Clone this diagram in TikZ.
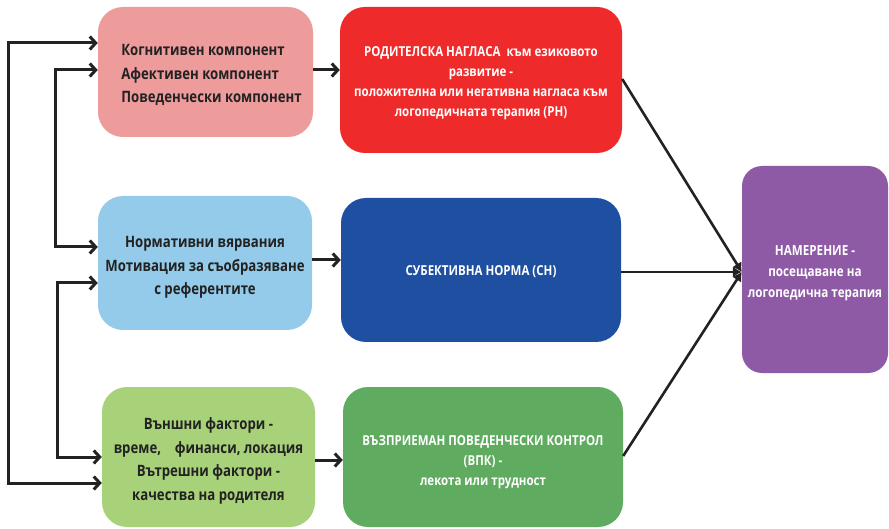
\documentclass[tikz,border=0pt]{standalone}
\usepackage{fontspec}
\setmainfont{Open Sans}[FakeStretch=0.84,BoldFont={* Bold}]
\usetikzlibrary{arrows.meta}
\definecolor{cpink}{HTML}{EE9B9B}
\definecolor{cred}{HTML}{EE2A2A}
\definecolor{clblue}{HTML}{94CBEA}
\definecolor{cdblue}{HTML}{1F4FA0}
\definecolor{clgreen}{HTML}{A8D27A}
\definecolor{cgreen}{HTML}{5FAB5F}
\definecolor{cpurple}{HTML}{8E5AA5}
\definecolor{ctext}{HTML}{222222}
\begin{document}
\begin{tikzpicture}[x=1pt,y=-1pt,
  boxstyle/.style={rounded corners=25pt,inner sep=0pt},
  label text/.style={inner sep=0pt,align=center},
  darktext/.style={label text,text=ctext,font=\bfseries\fontsize{15.7}{23.5}\selectfont},
  lighttext/.style={label text,text=white,font=\bfseries\fontsize{13.7}{20}\selectfont},
  conn/.style={draw=ctext,line width=3pt},
  arr/.style={conn,-{Straight Barb[length=6pt,width=13pt,line width=3pt]}},
  arrb/.style={conn,{Straight Barb[length=6pt,width=13pt,line width=3pt]}-{Straight Barb[length=6pt,width=13pt,line width=3pt]}},
  conv/.style={draw=ctext,line width=2.6pt,-{Latex[length=9pt,width=11pt]}}]
\useasboundingbox (0,0) rectangle (889,529);
% boxes
\node[boxstyle,fill=cpink,minimum width=215pt,minimum height=130pt] (pink) at (205.5,72) {};
\node[boxstyle,fill=cred,minimum width=282pt,minimum height=146pt] (red) at (481,80) {};
\node[boxstyle,fill=clblue,minimum width=214pt,minimum height=134pt] (lblue) at (205,263) {};
\node[boxstyle,fill=cdblue,minimum width=280pt,minimum height=144pt] (dblue) at (481,270) {};
\node[boxstyle,fill=clgreen,minimum width=213pt,minimum height=140pt] (lgreen) at (208.5,457) {};
\node[boxstyle,fill=cgreen,minimum width=280pt,minimum height=140pt] (green) at (483,457) {};
\node[boxstyle,rounded corners=20pt,fill=cpurple,minimum width=146pt,minimum height=207pt] (purple) at (815,269.5) {};
% texts
\node[darktext,align=left] (pinkt) at ([xshift=6pt,yshift=-3pt]pink.center)
  {Когнитивен компонент\\Афективен компонент\\Поведенчески компонент};
\node[lighttext] (redt) at ([yshift=-3pt]red.center)
  {РОДИТЕЛСКА НАГЛАСА\ \ към езиковото\\развитие -\\положителна или негативна нагласа към\\логопедичната терапия (РН)};
\node[darktext] (lbluet) at ([yshift=-4.5pt]lblue.center)
  {Нормативни вярвания\\Мотивация за съобразяване\\с референтите};
\node[lighttext] (dbluet) at ([yshift=-2pt]dblue.center)
  {СУБЕКТИВНА НОРМА (СН)};
\node[darktext] (lgreent) at ([yshift=-4pt]lgreen.center)
  {Външни фактори -\\време,\ \ \ \ финанси, локация\\Вътрешни фактори -\\качества на родителя};
\node[lighttext] (greent) at ([yshift=-5pt]green.center)
  {ВЪЗПРИЕМАН ПОВЕДЕНЧЕСКИ КОНТРОЛ\\(ВПК) -\\лекота или трудност};
\node[label text,text=white,font=\bfseries\fontsize{13.9}{21}\selectfont] (purplet) at ([yshift=-4pt]purple.center)
  {НАМЕРЕНИЕ -\\посещаване на\\логопедична терапия};
% feedback lines on the left
\coordinate (o1) at (8,43);
\coordinate (o2) at (8,483);
\coordinate (i1) at (55,70);
\coordinate (i2) at (55,247);
\coordinate (j1) at (57,283);
\coordinate (j2) at (57,457);
\draw[arrb] (pink.west|-o1) -- (o1) -- (o2) -- (lgreen.west|-o2);
\draw[arrb] (pink.west|-i1) -- (i1) -- (i2) -- (lblue.west|-i2);
\draw[arrb] (lblue.west|-j1) -- (j1) -- (j2) -- (lgreen.west|-j2);
% left to middle
\coordinate (h1) at (0,70);
\coordinate (h2) at (0,260);
\coordinate (h3) at (0,460);
\draw[arr] (pink.east|-h1) -- (red.west|-h1);
\draw[arr] (lblue.east|-h2) -- (dblue.west|-h2);
\draw[arr] (lgreen.east|-h3) -- (green.west|-h3);
% middle to purple
\coordinate (t) at (0,272);
\coordinate (s1) at (0,79);
\coordinate (s3) at (0,456);
\draw[conv] (red.east|-s1) -- (purple.west|-t);
\draw[conv] (green.east|-s3) -- (purple.west|-t);
\draw[conv] (dblue.east|-t) -- (purple.west|-t);
\end{tikzpicture}
\end{document}
